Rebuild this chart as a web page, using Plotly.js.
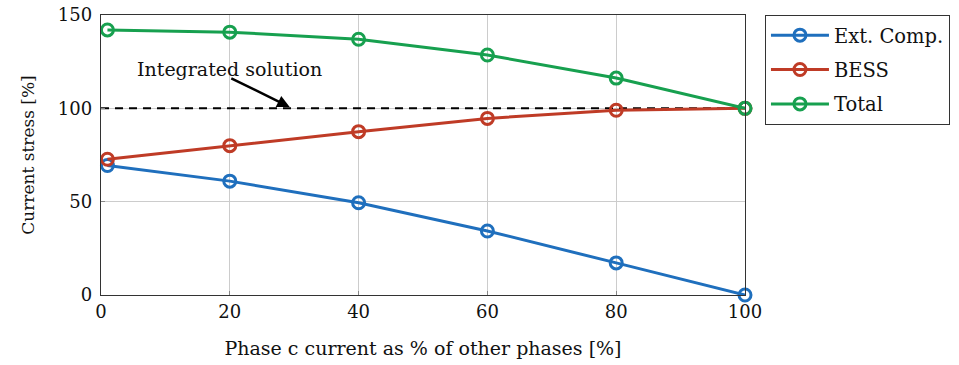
<!DOCTYPE html>
<html><head><meta charset="utf-8">
<script src="https://cdn.plot.ly/plotly-3.0.1.min.js"></script>
<style>body{margin:0;background:#fff}#c{width:959px;height:365px}</style>
</head><body><div id="c"></div>
<script>
const xVals = [1, 20, 40, 60, 80, 100];
const extComp = [69.4, 61, 49.4, 34.3, 17.2, 0];
const bess = [72.7, 80, 87.5, 94.6, 99, 100];
const total = [142, 140.8, 137, 128.6, 116.2, 100];
const refX = [0, 100];
const refY = [100, 100];
const xTicks = [0, 20, 40, 60, 80, 100];
const yTicks = [0, 50, 100, 150];

const font = "DejaVu Serif, Liberation Serif, serif";
function series(name, y, color) {
  return {x: xVals, y: y, name: name, type: 'scatter', mode: 'lines+markers',
    legendgroup: name,
    line: {color: color, width: 3},
    marker: {symbol: 'circle-open', size: 12, color: color, line: {width: 3, color: color}},
    cliponaxis: false};
}
const data = [
  {x: refX, y: refY, type: 'scatter', mode: 'lines', showlegend: false,
   line: {color: '#000', width: 2, dash: '8px,6px'}, hoverinfo: 'skip'},
  series('Ext. Comp.', extComp, '#1f6fbd'),
  series('BESS', bess, '#bf3b26'),
  series('Total', total, '#17a04f')
];
const layout = {
  width: 959, height: 365,
  margin: {l: 101, r: 214, t: 15, b: 70, autoexpand: false},
  paper_bgcolor: '#fff', plot_bgcolor: '#fff',
  font: {family: font, size: 18, color: '#111'},
  xaxis: {range: [0, 100], tickvals: xTicks, ticktext: xTicks.map(String),
    showgrid: true, gridcolor: '#cccccc', gridwidth: 1,
    showline: true, linecolor: '#333', linewidth: 1.2, mirror: true,
    ticks: 'inside', ticklen: 4, tickcolor: '#888', zeroline: false,
    tickfont: {size: 18},
    title: {text: 'Phase c current as % of other phases [%]', font: {size: 19}, standoff: 21}},
  yaxis: {range: [0, 150], tickvals: yTicks, ticktext: yTicks.map(String),
    showgrid: true, gridcolor: '#cccccc', gridwidth: 1,
    showline: true, linecolor: '#333', linewidth: 1.2, mirror: true,
    ticks: 'inside', ticklen: 4, tickcolor: '#888', zeroline: false,
    tickfont: {size: 18}, ticklabelstandoff: 4,
    title: {text: 'Current stress [%]', font: {size: 17}, standoff: 18}},
  legend: {x: 1.031, y: 1, xanchor: 'left', yanchor: 'top',
    bordercolor: '#333', borderwidth: 1, bgcolor: '#fff',
    font: {size: 19.5}, traceorder: 'grouped', tracegroupgap: 6, itemwidth: 58},
  annotations: [{
    x: 29.3, y: 100.7, xref: 'x', yref: 'y',
    ax: 20, ay: 116.5, axref: 'x', ayref: 'y',
    showarrow: true, arrowhead: 2, arrowsize: 1, arrowwidth: 2.5, arrowcolor: '#000',
    text: ''
  }, {
    x: 20, y: 121, xref: 'x', yref: 'y', showarrow: false,
    text: 'Integrated solution', font: {size: 19, color: '#111'}
  }]
};
Plotly.newPlot('c', data, layout, {displayModeBar: false, staticPlot: true});
</script></body></html>
